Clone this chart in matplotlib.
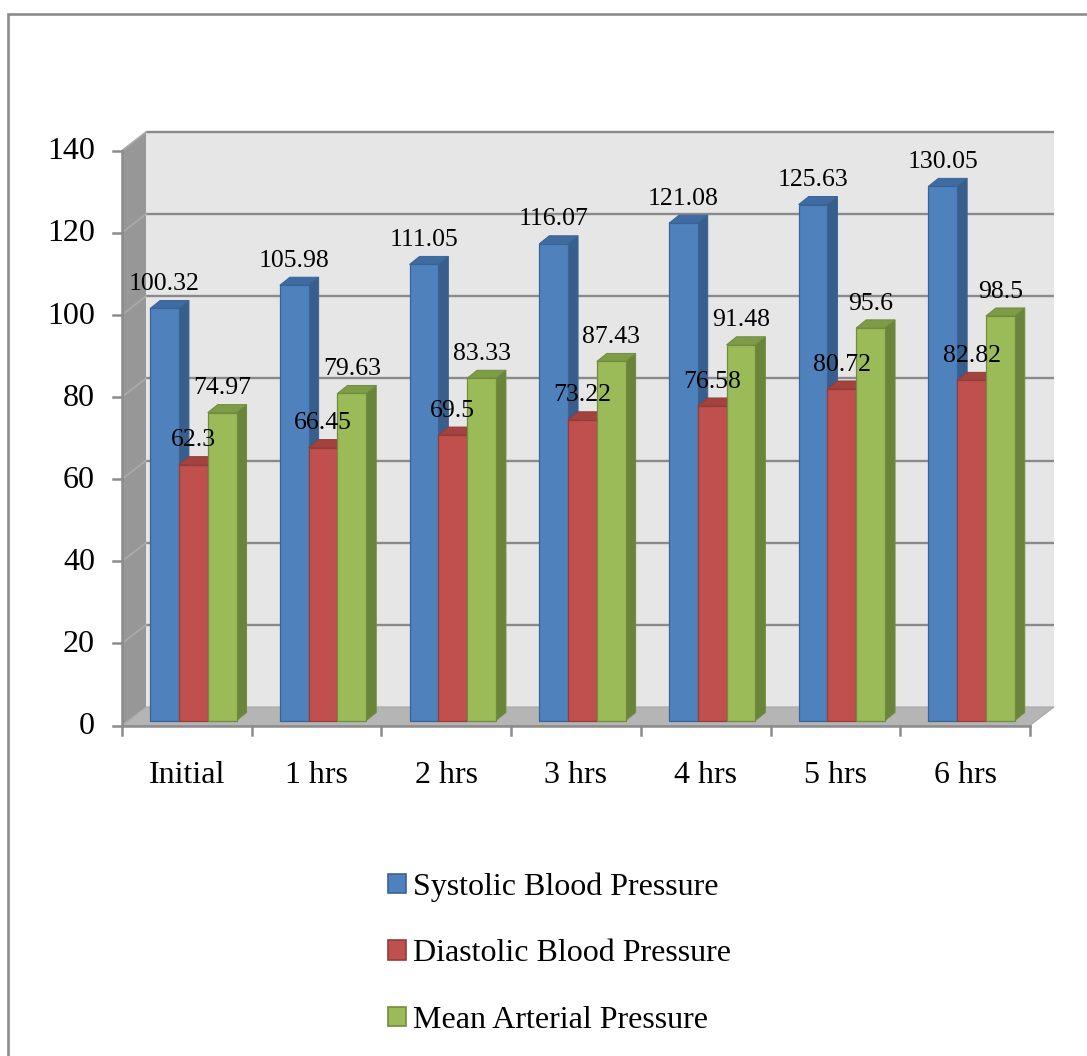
import matplotlib
matplotlib.use("Agg")
import matplotlib.pyplot as plt
from matplotlib.patches import Polygon, Rectangle, Patch

plt.rcParams["font.family"] = ["Liberation Serif", "DejaVu Serif"]

# ---- data ----
categories = ["Initial", "1 hrs", "2 hrs", "3 hrs", "4 hrs", "5 hrs", "6 hrs"]
systolic = [100.32, 105.98, 111.05, 116.07, 121.08, 125.63, 130.05]
diastolic = [62.3, 66.45, 69.5, 73.22, 76.58, 80.72, 82.82]
mean_arterial = [74.97, 79.63, 83.33, 87.43, 91.48, 95.6, 98.5]
series_names = ["Systolic Blood Pressure", "Diastolic Blood Pressure",
                "Mean Arterial Pressure"]
y_ticks = [0, 20, 40, 60, 80, 100, 120, 140]

# ---- styling ----
front_colors = ["#4F81BD", "#C0504D", "#9BBB59"]
side_colors = ["#385E8C", "#8E3B39", "#6A843A"]
top_colors = ["#3F6BA3", "#A4423F", "#7E9C46"]
edge_colors = ["#3A6396", "#943C3A", "#718B3F"]

W, H = 1087, 1056
fig = plt.figure(figsize=(W / 100, H / 100), dpi=100)

PXC = 129.7          # pixels per category
PXV = 575.0 / 140.0  # pixels per value unit
n = len(categories)
XMAX, YMAX = 7.2, 145.0
ax = fig.add_axes([122 / W, (H - 725.5) / H, XMAX * PXC / W, YMAX * PXV / H])
ax.set_xlim(0, XMAX)
ax.set_ylim(0, YMAX)
ax.axis("off")

# depth of the plot box and of each bar (converted to data units)
DX, DY = 24 / PXC, 18.5 / PXV
BX0, BY0 = 6.5 / PXC, 5.0 / PXV
BDX, BDY = 10.0 / PXC, 8.0 / PXV
BW = 28.8 / PXC

# back wall, left wall, floor
ax.add_patch(Rectangle((DX, DY), n, y_ticks[-1], fc="#E6E6E6", ec="none", zorder=0))
ax.add_patch(Polygon([(0, 0), (0, y_ticks[-1]), (DX, y_ticks[-1] + DY), (DX, DY)],
                     closed=True, fc="#979797", ec="none", zorder=1))
ax.add_patch(Polygon([(0, 0), (n, 0), (n + DX, DY), (DX, DY)],
                     closed=True, fc="#B5B5B5", ec="#A8A8A8", lw=0.8, zorder=1))

# gridlines on back and left walls
for v in y_ticks[1:]:
    ax.plot([DX, n + DX], [v + DY, v + DY], color="#8A8A8A", lw=1.7, zorder=0.5,
            solid_capstyle="butt")
    ax.plot([0, DX], [v, v + DY], color="#ABABAB", lw=1.2, zorder=1.5)

# axis lines and tick marks
axis_col = "#8C8C8C"
tick_x = 9 / PXC
tick_y = 9 / PXV
ax.plot([0, 0], [0, y_ticks[-1]], color=axis_col, lw=1.8, zorder=2, clip_on=False)
ax.plot([0, n], [0, 0], color=axis_col, lw=1.8, zorder=2, clip_on=False)
for v in y_ticks:
    ax.plot([-tick_x, 0], [v, v], color=axis_col, lw=1.8, zorder=2, clip_on=False)
    ax.text(-27 / PXC, v - 0.3, str(v), ha="right", va="center", fontsize=23,
            clip_on=False)
for i in range(n + 1):
    ax.plot([i, i], [0, -tick_y], color=axis_col, lw=1.8, zorder=2, clip_on=False)
for i, c in enumerate(categories):
    ax.text(i + 0.5, -50 / PXV, c, ha="center", va="center", fontsize=23,
            clip_on=False)

# 3-D looking bars
series = [systolic, diastolic, mean_arterial]
for i in range(n):
    for j, vals in enumerate(series):
        v = vals[i]
        left = i + 0.5 + (j - 1.5) * BW + BX0
        right = left + BW
        bottom = BY0
        top = BY0 + v
        z = 3 + i * 0.1 + j * 0.01
        ax.add_patch(Polygon([(right, bottom), (right + BDX, bottom + BDY),
                              (right + BDX, top + BDY), (right, top)],
                             closed=True, fc=side_colors[j], ec=edge_colors[j],
                             lw=0.7, zorder=z))
        ax.add_patch(Polygon([(left, top), (left + BDX, top + BDY),
                              (right + BDX, top + BDY), (right, top)],
                             closed=True, fc=top_colors[j], ec=edge_colors[j],
                             lw=0.7, zorder=z))
        ax.add_patch(Rectangle((left, bottom), BW, v, fc=front_colors[j],
                               ec=edge_colors[j], lw=0.9, zorder=z + 0.001))
        ax.annotate(f"{v:g}", xy=(left + BW / 2, top), xytext=(0, 17.5),
                    textcoords="offset points", ha="center", va="center",
                    fontsize=18.5, zorder=10, annotation_clip=False)

# legend
handles = [Patch(facecolor=front_colors[j], edgecolor=edge_colors[j], lw=1.2)
           for j in range(3)]
fig.legend(handles, series_names, loc="upper left",
           bbox_to_anchor=(388 / W, 1 - 872 / H), frameon=False, fontsize=23,
           borderpad=0, handlelength=0.55, handleheight=0.55,
           handletextpad=0.22, labelspacing=1.18, borderaxespad=0)

# outer frame
fig.add_artist(Rectangle((7.5 / W, -0.1), 1.2, (H - 14) / H + 0.1,
                         transform=fig.transFigure, fill=False,
                         ec="#8C8C8C", lw=1.9))

fig.savefig("out.png", dpi=100)
